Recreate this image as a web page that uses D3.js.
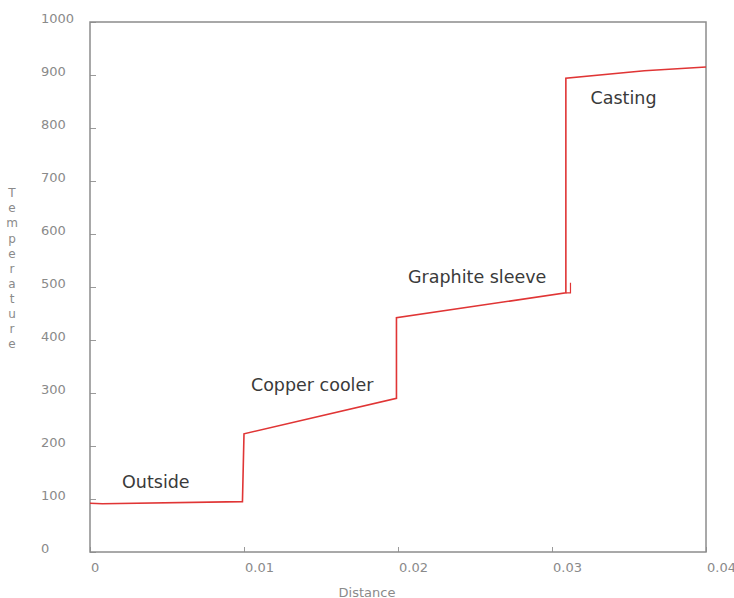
<!DOCTYPE html>
<html>
<head>
<meta charset="utf-8">
<script src="https://cdn.jsdelivr.net/npm/d3@7"></script>
<style>
  html, body { margin: 0; padding: 0; background: #fff; }
  svg { display: block; font-family: "DejaVu Sans", sans-serif; }
</style>
</head>
<body>
<div id="chart"></div>
<script>
(function () {
  "use strict";

  // temperature profile through the layers (distance in m)
  var distance    = [0, 0.0008, 0.0099, 0.0100, 0.0199, 0.0199, 0.0309, 0.0309, 0.0360, 0.0400];
  var temperature = [92, 91,    95,     223,    290,    442,    489,    894,    908,    915];

  // small edge mark at the sleeve end
  var edgeDistance    = [0.0309, 0.0312, 0.0312];
  var edgeTemperature = [489,    489,    508];

  var xTicks = [0, 0.01, 0.02, 0.03, 0.04];
  var yTicks = [0, 100, 200, 300, 400, 500, 600, 700, 800, 900, 1000];

  var labelText = ["Outside", "Copper cooler", "Graphite sleeve", "Casting"];
  var labelX    = [0.00208,   0.01045,         0.02065,           0.0325];
  var labelY    = [132,       315,             519,               857];

  var LINE  = "#e03535";
  var FRAME = "#8c8c8c";
  var TICK  = "#9a9a9a";
  var LABEL = "#3a3a3a";

  var W = 734, H = 598;
  var margin = { top: 22, right: 28, bottom: 46, left: 90 };
  var width  = W - margin.left - margin.right;
  var height = H - margin.top - margin.bottom;

  var root = d3.select("#chart").append("svg")
    .attr("width", W)
    .attr("height", H);

  var svg = root.append("g")
    .attr("transform", "translate(" + margin.left + "," + margin.top + ")");

  var x = d3.scaleLinear().domain([0, 0.04]).range([0, width]);
  var y = d3.scaleLinear().domain([0, 1000]).range([height, 0]);

  // inner ticks
  svg.append("g")
    .call(d3.axisLeft(y).tickValues(yTicks).tickSize(-6).tickFormat(""))
    .call(function (g) {
      g.select(".domain").remove();
      g.selectAll(".tick line").attr("stroke", TICK);
    });

  svg.append("g")
    .attr("transform", "translate(0," + height + ")")
    .call(d3.axisBottom(x).tickValues(xTicks).tickSize(-5).tickFormat(""))
    .call(function (g) {
      g.select(".domain").remove();
      g.selectAll(".tick line").attr("stroke", TICK);
    });

  // tick labels
  svg.selectAll(".ylab").data(yTicks).enter().append("text")
    .attr("class", "ylab")
    .attr("x", -49)
    .attr("y", function (d) { return y(d) - 4; })
    .attr("dy", "0.35em")
    .attr("fill", "#8a8a8a")
    .attr("font-size", "13px")
    .text(function (d) { return d; });

  svg.selectAll(".xlab").data(xTicks).enter().append("text")
    .attr("class", "xlab")
    .attr("x", function (d) { return x(d) + 1; })
    .attr("y", height + 15)
    .attr("dy", "0.35em")
    .attr("fill", "#8a8a8a")
    .attr("font-size", "13px")
    .text(function (d) { return d === 0 ? "0" : d3.format(".2f")(d); });

  // frame
  svg.append("rect")
    .attr("x", 0).attr("y", 0)
    .attr("width", width).attr("height", height)
    .attr("fill", "none")
    .attr("stroke", FRAME)
    .attr("stroke-width", 1.5);

  var line = d3.line()
    .x(function (d) { return x(d[0]); })
    .y(function (d) { return y(d[1]); });

  svg.append("path")
    .datum(d3.zip(distance, temperature))
    .attr("fill", "none")
    .attr("stroke", LINE)
    .attr("stroke-width", 1.6)
    .attr("d", line);

  svg.append("path")
    .datum(d3.zip(edgeDistance, edgeTemperature))
    .attr("fill", "none")
    .attr("stroke", LINE)
    .attr("stroke-width", 1.2)
    .attr("d", line);

  // region labels
  labelText.forEach(function (t, i) {
    svg.append("text")
      .attr("x", x(labelX[i]))
      .attr("y", y(labelY[i]))
      .attr("dy", "0.35em")
      .attr("fill", LABEL)
      .attr("font-size", "17.5px")
      .text(t);
  });

  // axis titles
  root.append("text")
    .attr("x", 367)
    .attr("y", 592)
    .attr("dy", "0.35em")
    .attr("text-anchor", "middle")
    .attr("fill", "#8a8a8a")
    .attr("font-size", "13px")
    .text("Distance");

  var yTitle = root.append("text")
    .attr("fill", "#8a8a8a")
    .attr("font-size", "12px")
    .attr("text-anchor", "middle");
  "Temperature".split("").forEach(function (ch, i) {
    yTitle.append("tspan")
      .attr("x", 12)
      .attr("y", 193 + i * 15.1)
      .attr("dy", "0.35em")
      .text(ch);
  });
}());
</script>
</body>
</html>
